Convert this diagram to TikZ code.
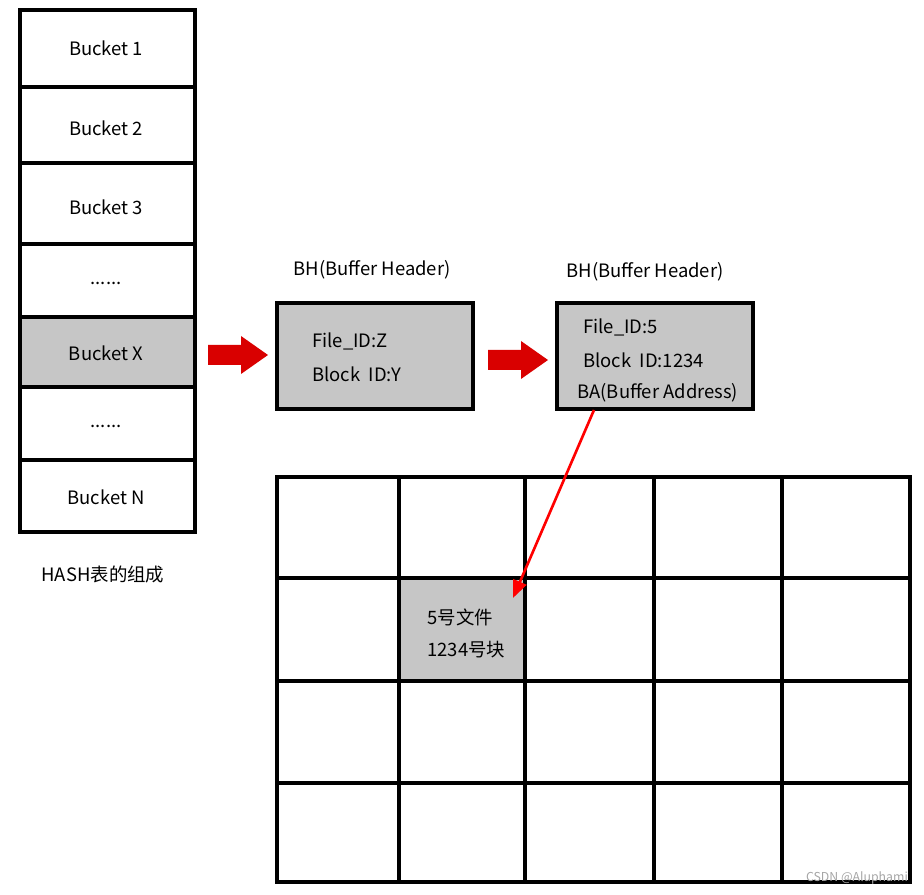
\documentclass[tikz,border=0pt]{standalone}
\usepackage{fontspec}
\setmainfont{Noto Sans CJK SC}
\usetikzlibrary{arrows.meta}
\tikzset{
  cell/.style={draw,line width=2pt},
  shade/.style={cell,fill=gray!45},
  txt/.style={font=\fontsize{10.5}{12}\selectfont,inner sep=0pt},
  blockarrow/.style={fill=red!85!black,draw=none}
}
\newcommand\blockarr[2]{% x, y of tail centre
  \fill[blockarrow] (#1,#2-10) -- (#1+33,#2-10) -- (#1+33,#2-19) -- (#1+60,#2)
    -- (#1+33,#2+19) -- (#1+33,#2+10) -- (#1,#2+10) -- cycle;}
\begin{document}
\begin{tikzpicture}[x=0.02cm,y=-0.02cm]
  \useasboundingbox (0,0) rectangle (924,895);
  % hash buckets
  \filldraw[shade] (20,317) rectangle (195,387);
  \draw[cell] (20,10) rectangle (195,532);
  \foreach \y in {87,163,244,317,387,460} \draw[cell] (20,\y) -- (195,\y);
  \node[txt] (b1) at (106,48) {Bucket 1};
  \node[txt] (b2) at (106,128) {Bucket 2};
  \node[txt] (b3) at (106,207) {Bucket 3};
  \node[txt] (d1) at (106,283) {......};
  \node[txt] (bx) at (106,353) {Bucket X};
  \node[txt] (d2) at (106,426) {......};
  \node[txt] (bn) at (106,497) {Bucket N};
  \node[txt] (hash) at (103,575) {HASH表的组成};
  % buffer headers
  \filldraw[shade] (277,303) rectangle (473,409);
  \node[txt] (bh1) at (372,270) {BH(Buffer Header)};
  \node[txt,anchor=west] (f1) at (312,341) {File\_ID:Z};
  \node[txt,anchor=west] (k1) at (312,374) {Block\ \ ID:Y};
  \filldraw[shade] (557,303) rectangle (753,409);
  \node[txt] (bh2) at (645,272) {BH(Buffer Header)};
  \node[txt,anchor=west] (f2) at (583,327) {File\_ID:5};
  \node[txt,anchor=west] (k2) at (583,360) {Block\ \ ID:1234};
  \node[txt,anchor=west] (ba) at (577,393) {BA(Buffer Address)};
  \blockarr{208}{355}
  \blockarr{488}{360}
  % buffer grid
  \filldraw[shade] (399,578) rectangle (525,681);
  \draw[cell] (277,477) rectangle (910,882);
  \foreach \x in {399,525,654,782} \draw[cell] (\x,477) -- (\x,882);
  \foreach \y in {578,681,783} \draw[cell] (277,\y) -- (910,\y);
  \node[txt,anchor=west] (c1) at (427,617) {5号文件};
  \node[txt,anchor=west] (c2) at (427,650) {1234号块};
  \coordinate (src) at (594,410);
  \coordinate (dst) at (513,598);
  \draw[red,line width=1.5pt,-{Triangle[length=10pt,width=8pt]}] (src) -- (dst);
  \node[txt,text=gray!70,font=\fontsize{7}{8}\selectfont] (wm) at (857,878) {CSDN @Aluphami};
\end{tikzpicture}
\end{document}
